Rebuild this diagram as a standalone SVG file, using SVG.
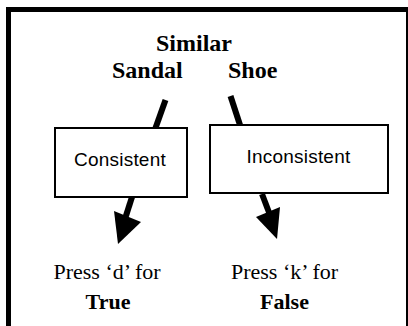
<svg xmlns="http://www.w3.org/2000/svg" width="408" height="326" viewBox="0 0 408 326">
<style>
.frame{fill:#fff;stroke:#000;stroke-width:5}
.box{fill:#fff;stroke:#000;stroke-width:2}
.head{font-family:"Liberation Serif","Times New Roman",serif;font-weight:bold;font-size:24px;fill:#000}
.lbl{font-family:"Liberation Sans",Arial,sans-serif;font-size:19px;letter-spacing:0.2px;fill:#000}
.out{font-family:"Liberation Serif","Times New Roman",serif;font-size:22px;fill:#000}
.outb{font-family:"Liberation Serif","Times New Roman",serif;font-size:22px;font-weight:bold;fill:#000}
.shaft{stroke:#000;stroke-width:6;fill:none}
.tip{fill:#000}
</style>
<rect width="408" height="326" fill="#fff"/>
<rect class="frame" x="8.5" y="9.5" width="400" height="330"/>
<g id="title">
<text class="head" x="194" y="51" text-anchor="middle">Similar</text>
<text class="head" x="112" y="78">Sandal</text>
<text class="head" x="228" y="78">Shoe</text>
</g>
<g id="consistent">
<rect class="box" x="55" y="128" width="132" height="69"/>
<text class="lbl" x="120" y="166" text-anchor="middle">Consistent</text>
</g>
<g id="inconsistent">
<rect class="box" x="210" y="125" width="178" height="68"/>
<text class="lbl" x="298.5" y="162.5" text-anchor="middle">Inconsistent</text>
</g>
<g id="true">
<text class="out" x="107" y="279" text-anchor="middle">Press ‘d’ for</text>
<text class="outb" x="108" y="309" text-anchor="middle">True</text>
</g>
<g id="false">
<text class="out" x="284.5" y="279" text-anchor="middle">Press ‘k’ for</text>
<text class="outb" x="284.5" y="309" text-anchor="middle">False</text>
</g>
<g id="connectors">
<line class="shaft" x1="165.5" y1="100" x2="155.5" y2="128"/>
<line class="shaft" x1="230.5" y1="96" x2="240" y2="125"/>
<line class="shaft" x1="132" y1="197" x2="124" y2="222"/>
<polygon class="tip" points="114,211 141,222 118,244"/>
<line class="shaft" x1="262" y1="194" x2="270" y2="215"/>
<polygon class="tip" points="256,217 280,207 277,239"/>
</g>
</svg>
